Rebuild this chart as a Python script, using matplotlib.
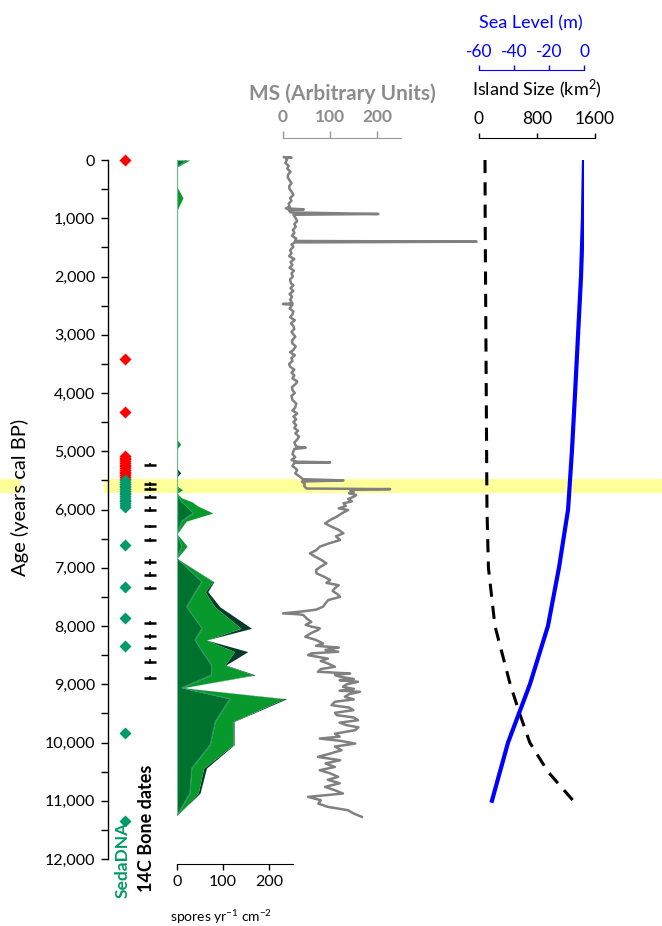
import numpy as np
import matplotlib
matplotlib.use('Agg')
import matplotlib.pyplot as plt
from matplotlib.ticker import MultipleLocator, FuncFormatter, FixedLocator

plt.rcParams['font.family'] = ['Lato', 'DejaVu Sans']
plt.rcParams['axes.unicode_minus'] = False
plt.rcParams['mathtext.fontset'] = 'custom'
plt.rcParams['mathtext.rm'] = 'Lato'
plt.rcParams['mathtext.it'] = 'Lato:italic'
plt.rcParams['mathtext.bf'] = 'Lato:bold'

# ---------------- data ----------------
age_ticks = list(range(0, 12001, 1000))

band_age = [5470, 5720]

sed_red_ages = [0, 3420, 4330, 5080, 5110, 5140, 5170, 5200, 5230, 5260, 5290,
                5320, 5350, 5380, 5410, 5440, 5470]
sed_green_ages = [5500, 5530, 5560, 5590, 5620, 5650, 5680, 5710, 5740, 5770,
                  5800, 5830, 5860, 5890, 5920, 5950, 6610, 7330, 7860, 8340,
                  9840, 11340]

bone_ages = [5230, 5560, 5650, 5780, 6000, 6290, 6520, 6900, 7120, 7350,
             7950, 8180, 8380, 8610, 8890]
bone_err = [30, 30, 30, 30, 35, 30, 35, 45, 45, 35, 30, 35, 40, 40, 40]

spore_age = [0, 120, 460, 650, 860, 4800, 4880, 4960, 5300, 5370, 5440, 5600,
             5660, 5720, 5800, 5870, 5940, 6060, 6200, 6420, 6630, 6840, 7240,
             7410, 7670, 8040, 8240, 8440, 8670, 8840, 9060, 9250, 9640, 10040,
             10440, 10870, 11250]
spore_dark = [20, 0, 0, 0, 0, 0, 0, 0, 0, 0, 0, 0, 4, 0, 5, 10, 20, 35, 10, 0,
              10, 0, 54, 40, 21, 54, 39, 55, 75, 75, 10, 115, 83, 72, 32, 28, 0]
spore_mid = [28, 0, 0, 13, 0, 0, 8, 0, 0, 2, 0, 0, 12, 0, 10, 33, 45, 78, 20, 0,
             22, 0, 78, 61, 82, 139, 64, 125, 104, 165, 13, 232, 122, 122, 58, 46, 0]
spore_total = [28, 0, 0, 13, 0, 0, 8, 0, 0, 8, 0, 0, 12, 0, 10, 33, 45, 78, 20, 0,
               22, 0, 80, 67, 93, 162, 64, 154, 106, 170, 13, 238, 124, 124, 64, 50, 0]

ms_age = [-50, -40, -30, 0, 50, 100, 150, 200, 250, 300, 350, 400, 450, 500, 550,
          600, 650, 700, 750, 800, 830, 847, 860, 900, 927, 940, 1000, 1050, 1100,
          1145, 1200, 1250, 1300, 1350, 1390, 1402, 1415, 1450, 1488, 1550, 1600,
          1650, 1700, 1750, 1800, 1850, 1900, 1950, 2000, 2050, 2117, 2150, 2200,
          2250, 2300, 2350, 2400, 2460, 2472, 2485, 2550, 2600, 2650, 2700, 2750,
          2804, 2850, 2900, 2950, 3033, 3100, 3150, 3200, 3262, 3300, 3350, 3400,
          3450, 3500, 3548, 3600, 3650, 3700, 3750, 3800, 3834, 3900, 3950, 4000,
          4050, 4120, 4180, 4250, 4300, 4350, 4406, 4450, 4500, 4550, 4600, 4650,
          4692, 4750, 4800, 4850, 4921, 4940, 4960, 5050, 5100, 5150, 5180, 5190,
          5200, 5250, 5320, 5380, 5450, 5480, 5500, 5520, 5560, 5600, 5640, 5650,
          5660, 5680, 5700, 5720, 5750, 5780, 5820, 5860, 5894, 5940, 5980, 6009,
          6060, 6123, 6180, 6238, 6300, 6350, 6409, 6460, 6524, 6580, 6638, 6700,
          6753, 6800, 6860, 6924, 6980, 7040, 7096, 7150, 7210, 7260, 7300, 7350,
          7400, 7450, 7500, 7554, 7610, 7668, 7720, 7754, 7783, 7800, 7811, 7870,
          7930, 7980, 8012, 8040, 8069, 8120, 8184, 8240, 8299, 8340, 8370, 8410,
          8442, 8470, 8500, 8560, 8600, 8643, 8700, 8740, 8786, 8815, 8840, 8872,
          8910, 8930, 8958, 9000, 9044, 9080, 9110, 9130, 9170, 9216, 9260, 9300,
          9359, 9400, 9445, 9490, 9531, 9570, 9617, 9660, 9703, 9740, 9788, 9850,
          9900, 9932, 9970, 10018, 10070, 10133, 10190, 10247, 10304, 10360, 10420,
          10476, 10530, 10590, 10640, 10700, 10762, 10820, 10876, 10934, 10990,
          11050, 11105, 11163, 11220, 11277]
ms_val = [2, 18, 6, 8, 5, 12, 9, 16, 11, 10, 14, 18, 13, 14, 19,
          22, 15, 18, 12, 14, 6, 44, 12, 16, 202, 22, 27, 30, 24,
          27, 21, 24, 19, 28, 25, 410, 25, 18, 22, 15, 18,
          13, 24, 16, 20, 14, 23, 18, 21, 15, 17, 22, 16,
          22, 14, 19, 15, 20, 0, 20, 14, 22, 20, 15, 25,
          17, 22, 24, 18, 26, 19, 20, 27, 22, 15, 25, 18,
          20, 13, 15, 24, 18, 24, 20, 30, 28, 19, 20, 25,
          18, 20, 28, 26, 20, 30, 22, 28, 22, 28, 24, 32,
          26, 34, 30, 24, 28, 48, 24, 20, 26, 18, 30, 100,
          24, 20, 30, 26, 38, 42, 128, 40, 46, 45, 50, 227,
          150, 143, 150, 140, 155, 150, 138, 146, 128, 133, 118, 138,
          126, 114, 100, 89, 104, 118, 128, 112, 121, 98, 78, 70,
          57, 66, 80, 92, 80, 70, 71, 86, 100, 92, 118, 110,
          105, 115, 121, 96, 90, 85, 70, 36, 0, 35, 43, 50,
          60, 48, 61, 78, 74, 60, 47, 70, 85, 70, 118, 90,
          117, 60, 53, 95, 80, 95, 110, 80, 74, 142, 110, 121,
          150, 120, 159, 135, 127, 150, 120, 163, 140, 131, 150, 110,
          103, 140, 149, 110, 114, 150, 159, 120, 135, 160, 153, 110,
          120, 78, 120, 153, 110, 124, 100, 74, 121, 90, 110,
          78, 100, 117, 95, 120, 89, 110, 127, 53, 80,
          75, 95, 138, 150, 167]

sl_age = [0, 1000, 2000, 3000, 4000, 5000, 6000, 7000, 8000, 9000, 10000, 11000]
sl_val = [0, -0.6, -1.7, -3.4, -5.1, -6.9, -9.1, -14.3, -20.6, -30.9, -43.4, -52.6]

isl_age = [0, 1000, 2000, 3000, 4000, 5000, 6000, 7000, 8000, 9000, 9500, 10000,
           10500, 11000]
isl_val = [83, 85, 90, 95, 100, 105, 110, 130, 220, 430, 560, 700, 950, 1300]

# ---------------- layout ----------------
W, H = 662, 926
fig = plt.figure(figsize=(W / 100, H / 100), dpi=100)
TOP, BOT = 160, 859
PX = 0.72  # points per pixel


def pax(left, width, top=TOP, height=BOT - TOP):
    a = fig.add_axes([left / W, 1 - (top + height) / H, width / W, height / H])
    a.patch.set_visible(False)
    a.set_ylim(12000, 0)
    for s in a.spines.values():
        s.set_visible(False)
    a.set_yticks([])
    return a


def ftext(x, y, s, **kw):
    fig.text(x / W, 1 - y / H, s, ha=kw.pop('ha', 'center'),
             va=kw.pop('va', 'center'), **kw)


# background band
bg = pax(0, W)
bg.set_xlim(0, W)
bg.set_xticks([])
bg.axhspan(band_age[0], band_age[1], xmin=0, xmax=20 / W, color='#ffff99', lw=0)
bg.axhspan(band_age[0], band_age[1], xmin=104 / W, xmax=1, color='#ffff99', lw=0)

# main age axis
ax = pax(108, W - 108)
ax.set_xlim(0, W - 108)
ax.set_xticks([])
ax.spines['left'].set_visible(True)
ax.spines['left'].set_linewidth(1.0)
ax.yaxis.set_major_locator(FixedLocator(age_ticks))
ax.yaxis.set_minor_locator(MultipleLocator(500))
ax.yaxis.set_major_formatter(FuncFormatter(lambda v, p: f"{int(v):,}"))
ax.tick_params(axis='y', which='both', length=7 * PX, width=1, direction='out',
               labelsize=11.5, pad=6 * PX)
ax.set_ylim(12000, 0)

SED_X = 17
BONE_X = 42
ax.plot([SED_X] * len(sed_red_ages), sed_red_ages, 'D', color='#ff0000', ms=6,
        mec='none', clip_on=False, zorder=5)
ax.plot([SED_X] * len(sed_green_ages), sed_green_ages, 'D', color='#00996b', ms=6,
        mec='none', clip_on=False, zorder=5)
ax.errorbar([BONE_X] * len(bone_ages), bone_ages, yerr=bone_err, fmt='_',
            color='black', ms=9, mew=1.8, elinewidth=1.2, capsize=0, zorder=5)

ftext(20, 497, 'Age (years cal BP)', rotation=90, fontsize=14.5)
ftext(123, 898, 'SedaDNA', rotation=90, fontsize=12.5, fontweight='bold',
      color='#009966', va='bottom')
ftext(147, 892, '14C Bone dates', rotation=90, fontsize=13, fontweight='bold',
      color='black', va='bottom')

# spores
sp = pax(177, 116)
sp.set_xlim(0, 252)
D = np.array(spore_dark)
M = np.array(spore_mid)
T = np.array(spore_total)
A = np.array(spore_age)
sp.fill_betweenx(A, M, T, color='#033a2c', lw=0)
sp.fill_betweenx(A, D, M, color='#07992b', lw=0)
sp.fill_betweenx(A, 0, D, color='#00722e', lw=0)
sp.plot(D, A, color='#2f9f6c', lw=0.7)
sp.plot([0, 0], [0, 6840], color='#5dbf90', lw=1.6)
sp.spines['bottom'].set_visible(True)
sp.spines['bottom'].set_position(('outward', 5 * PX))
sp.set_xticks([0, 100, 200])
sp.tick_params(axis='x', length=6 * PX, width=1, labelsize=11.5, pad=5 * PX)
ftext(221, 917, 'spores yr$^{-1}$ cm$^{-2}$', fontsize=10)

# MS
ms = pax(283, 118)
ms.set_xlim(0, 250)
ms.plot(ms_val, ms_age, color='#808080', lw=1.8, clip_on=False)
ms.spines['top'].set_visible(True)
ms.spines['top'].set_color('#999999')
ms.spines['top'].set_position(('outward', 22 * PX))
ms.xaxis.set_ticks_position('top')
ms.set_xticks([0, 100, 200])
ms.tick_params(axis='x', length=7 * PX, width=1, color='#999999',
               labelcolor='#8c8c8c', labelsize=12.5, pad=6 * PX)
for t in ms.get_xticklabels():
    t.set_fontweight('bold')
ftext(342, 94, 'MS (Arbitrary Units)', fontsize=15, fontweight='bold',
      color='#8c8c8c')

# island size
isl = pax(479, 116)
isl.set_xlim(0, 1600)
isl.plot(isl_val, isl_age, color='black', lw=2.2, ls=(0, (4.3, 3.0)))
isl.spines['top'].set_visible(True)
isl.spines['top'].set_position(('outward', 22 * PX))
isl.xaxis.set_ticks_position('top')
isl.set_xticks([0, 800, 1600])
isl.tick_params(axis='x', length=5 * PX, width=1, labelsize=12.5, pad=6 * PX)
ftext(537, 89, 'Island Size (km$^2$)', fontsize=13)

# sea level
sl = pax(479, 105)
sl.set_xlim(-60, 0)
sl.plot(sl_val, sl_age, color='#0000ff', lw=3)
sl.spines['top'].set_visible(True)
sl.spines['top'].set_color('#0000ff')
sl.spines['top'].set_position(('outward', 90 * PX))
sl.xaxis.set_ticks_position('top')
sl.set_xticks([-60, -40, -20, 0])
sl.tick_params(axis='x', length=5 * PX, width=1, color='#0000ff',
               labelcolor='#0000ff', labelsize=12.5, pad=5 * PX)
ftext(531, 23, 'Sea Level (m)', fontsize=13, color='#0000ff')

fig.savefig('out.png', dpi=100)
